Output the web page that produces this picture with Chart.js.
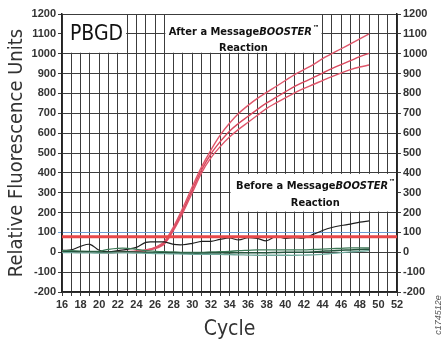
<!DOCTYPE html>
<html>
<head>
<meta charset="utf-8">
<script src="https://cdn.jsdelivr.net/npm/chart.js@4/dist/chart.umd.min.js"></script>
<style>
  html, body { margin: 0; padding: 0; background: #fff; }
  #wrap { width: 443px; height: 342px; }
</style>
</head>
<body>
<div id="wrap"><canvas id="myChart" width="443" height="342"></canvas></div>
<script>
const cycles = [16, 17, 18, 19, 20, 21, 22, 23, 24, 25, 26, 27, 28, 29, 30, 31, 32,
  33, 34, 35, 36, 37, 38, 39, 40, 41, 42, 43, 44, 45, 46, 47, 48, 49];

// after a MessageBOOSTER reaction (red)
const afterA = [4, 3, 2, 2, 1, 0, 2, 4, 6, 12, 25, 55, 130, 225, 330, 430, 515,
  590, 650, 700, 740, 775, 805, 835, 865, 895, 920, 945, 975, 1000, 1025, 1050, 1075, 1100];
const afterB = [2, 2, 1, 0, 0, 0, 1, 3, 5, 10, 22, 48, 120, 212, 315, 415, 495,
  557, 610, 650, 685, 720, 752, 780, 808, 835, 858, 880, 902, 925, 945, 965, 985, 1002];
const afterC = [0, 0, 0, 0, -1, -2, 0, 2, 4, 8, 18, 42, 112, 200, 300, 400, 475,
  532, 580, 620, 655, 690, 725, 752, 778, 803, 825, 845, 865, 885, 903, 920, 933, 943];

// before a MessageBOOSTER reaction
const beforeBlack = [10, 12, 30, 40, 10, 2, 8, 15, 25, 50, 52, 52, 40, 38, 45, 55, 55,
  65, 72, 62, 74, 70, 58, 80, 70, 74, 72, 90, 110, 125, 135, 142, 152, 158];
const beforeG1 = [8, 8, 6, 5, 5, 15, 20, 20, 15, 8, 5, 3, 2, 0, 0, 0, 2,
  3, 5, 8, 10, 12, 12, 12, 12, 12, 12, 14, 16, 18, 20, 22, 22, 22];
const beforeG2 = [2, 3, 2, 2, 0, 0, 2, 3, 2, 0, -2, -3, -4, -5, -5, -5, -4,
  -3, -3, -2, -2, -2, -2, -1, 0, 0, 0, 2, 5, 8, 10, 12, 14, 15];
const beforeG3 = [-2, -2, -3, -3, -4, -4, -3, -3, -4, -5, -6, -7, -8, -9, -10, -10, -10,
  -11, -12, -13, -14, -15, -15, -15, -15, -15, -14, -13, -10, -6, -2, 2, 5, 8];

const threshold = 78;
const xTicks = [16, 18, 20, 22, 24, 26, 28, 30, 32, 34, 36, 38, 40, 42, 44, 46, 48, 50, 52];
const yTicks = [1200, 1100, 1000, 900, 800, 700, 600, 500, 400, 300, 200, 100, 0, -100, -200];

function pts(arr) {
  return cycles.map(function (c, i) { return { x: c, y: arr[i] }; });
}

const tickFont = { family: "'Liberation Sans', Arial, sans-serif", size: 11, weight: "bold" };
const narrow = "'Liberation Sans Narrow', 'DejaVu Sans Condensed', 'Liberation Sans', sans-serif";

function boosterText(ctx, first, cx, y, size) {
  const normal = "bold " + size + "px " + narrow;
  const ital = "italic bold " + size + "px " + narrow;
  const tm = "bold " + Math.round(size * 0.6) + "px " + narrow;
  ctx.font = normal; const w1 = ctx.measureText(first).width;
  ctx.font = ital; const w2 = ctx.measureText("BOOSTER").width;
  ctx.font = tm; const w3 = ctx.measureText("™").width;
  let x = cx - (w1 + w2 + w3) / 2;
  ctx.textAlign = "left";
  ctx.textBaseline = "middle";
  ctx.font = normal; ctx.fillText(first, x, y); x += w1;
  ctx.font = ital; ctx.fillText("BOOSTER", x, y); x += w2;
  ctx.font = tm; ctx.fillText("™", x + 1, y - size * 0.35);
}

const boxes = {
  id: "boxes",
  beforeDatasetsDraw: function (chart) {
    const c = chart.ctx, xs = chart.scales.x, ys = chart.scales.y;
    function rect(x0, x1, y0, y1) {
      const l = xs.getPixelForValue(x0) + 1, r = xs.getPixelForValue(x1) - 1;
      const t = ys.getPixelForValue(y1) + 1, b = ys.getPixelForValue(y0) - 1;
      c.fillStyle = "#fff";
      c.fillRect(l, t, r - l, b - t);
      return { cx: (l + r) / 2, t: t, b: b };
    }
    c.save();
    const p = rect(16, 23, 1000, 1200);
    const a = rect(27, 44, 1000, 1200);
    const bf = rect(34, 52, 200, 400);
    c.fillStyle = "#111";
    c.font = "21px " + narrow;
    c.textAlign = "center";
    c.textBaseline = "middle";
    c.fillText("PBGD", p.cx + 2, (p.t + p.b) / 2 + 1);
    boosterText(c, "After a Message", a.cx, a.t + 17, 11);
    c.font = "bold 11px " + narrow;
    c.textAlign = "center";
    c.fillText("Reaction", a.cx, a.t + 33);
    boosterText(c, "Before a Message", bf.cx + 2, bf.t + 12, 11);
    c.font = "bold 11px " + narrow;
    c.textAlign = "center";
    c.fillText("Reaction", bf.cx + 2, bf.t + 29);
    c.restore();
  },
  afterDraw: function (chart) {
    const c = chart.ctx;
    c.save();
    c.translate(438, 315);
    c.rotate(-Math.PI / 2);
    c.fillStyle = "#555";
    c.font = "italic 9px 'Liberation Sans', sans-serif";
    c.textAlign = "center";
    c.textBaseline = "middle";
    c.fillText("c174512e", 0, 0);
    c.restore();
  }
};

function line(data, color, width) {
  return {
    data: pts(data),
    borderColor: color,
    borderWidth: width,
    pointRadius: 0,
    tension: 0.35,
    fill: false
  };
}

function plain(v) { return String(v); }

const ctx = document.getElementById("myChart");

new Chart(ctx, {
  type: "line",
  data: {
    datasets: [
      {
        data: [{ x: 16, y: threshold }, { x: 52, y: threshold }],
        borderColor: "#e8474a",
        borderWidth: 3,
        pointRadius: 0
      },
      line(beforeG3, "#6fa99b", 1.3),
      line(beforeG2, "#24553d", 1.5),
      line(beforeG1, "#3c7a57", 1.3),
      line(beforeBlack, "#1e1e1e", 1.2),
      line(afterA, "#e0566b", 1.4),
      line(afterB, "#d9485e", 1.4),
      line(afterC, "#e0566b", 1.4)
    ]
  },
  plugins: [boxes],
  options: {
    responsive: false,
    animation: false,
    layout: { padding: { top: 14, right: 0, left: 0, bottom: 0 } },
    plugins: {
      legend: { display: false },
      tooltip: { enabled: false }
    },
    scales: {
      x: {
        type: "linear",
        min: 16,
        max: 52,
        afterFit: function (scale) { scale.height = 50; },
        afterBuildTicks: function (scale) {
          const t = [];
          for (let v = 16; v <= 52; v++) t.push({ value: v });
          scale.ticks = t;
        },
        ticks: {
          autoSkip: false,
          maxRotation: 0,
          padding: 2,
          color: "#333",
          font: tickFont,
          callback: function (v) { return xTicks.indexOf(v) >= 0 ? String(v) : ""; }
        },
        grid: { color: "#3c3c3c", lineWidth: 1, tickLength: 4 },
        border: { color: "#222", width: 1.5 },
        title: {
          display: true,
          text: "Cycle",
          color: "#333",
          font: { family: narrow, size: 21 },
          padding: { top: 0, bottom: 0 }
        }
      },
      y: {
        type: "linear",
        position: "left",
        min: -200,
        max: 1200,
        afterFit: function (scale) { scale.width = 62; },
        afterBuildTicks: function (scale) {
          scale.ticks = yTicks.map(function (v) { return { value: v }; });
        },
        ticks: { color: "#333", font: tickFont, padding: 2, callback: plain },
        grid: {
          tickLength: 4,
          lineWidth: 1,
          color: function (c) { return c.tick && c.tick.value === 100 ? "#6b9bd2" : "#3c3c3c"; }
        },
        border: { color: "#222", width: 1.5 },
        title: {
          display: true,
          text: "Relative Fluorescence Units",
          color: "#333",
          font: { family: narrow, size: 20 },
          padding: { top: 5, bottom: 0 }
        }
      },
      y2: {
        type: "linear",
        position: "right",
        min: -200,
        max: 1200,
        afterFit: function (scale) { scale.width = 46; },
        afterBuildTicks: function (scale) {
          scale.ticks = yTicks.map(function (v) { return { value: v }; });
        },
        ticks: { color: "#333", font: tickFont, padding: 2, callback: plain },
        grid: { drawOnChartArea: false, tickLength: 4, color: "#3c3c3c" },
        border: { color: "#222", width: 1.5 }
      }
    }
  }
});
</script>
</body>
</html>
